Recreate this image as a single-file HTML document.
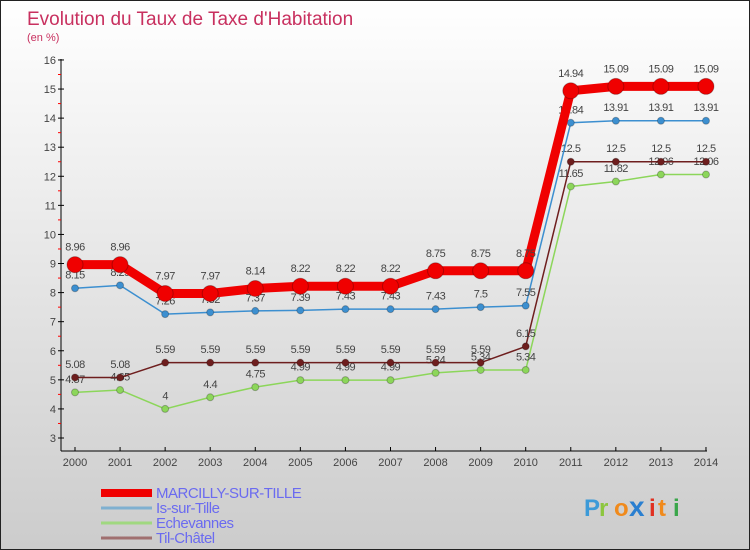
<!DOCTYPE html>
<html><head><meta charset="utf-8"><style>
body{margin:0}
#c{width:748px;height:548px;border:1px solid #222;background:linear-gradient(#fff,#ccc);position:relative;overflow:hidden;font-family:"Liberation Sans",sans-serif}
</style></head><body>
<div id="c">
<svg id="s" width="748" height="548"></svg>
</div>
<script>
const years=["2000","2001","2002","2003","2004","2005","2006","2007","2008","2009","2010","2011","2012","2013","2014"];
const marcilly=[8.96,8.96,7.97,7.97,8.14,8.22,8.22,8.22,8.75,8.75,8.75,14.94,15.09,15.09,15.09];
const issur=[8.15,8.25,7.26,7.32,7.37,7.39,7.43,7.43,7.43,7.5,7.55,13.84,13.91,13.91,13.91];
const echev=[4.57,4.65,4,4.4,4.75,4.99,4.99,4.99,5.24,5.34,5.34,11.65,11.82,12.06,12.06];
const til=[5.08,5.08,5.59,5.59,5.59,5.59,5.59,5.59,5.59,5.59,6.15,12.5,12.5,12.5,12.5];
const yTicks=[3,4,5,6,7,8,9,10,11,12,13,14,15,16];
const NS="http://www.w3.org/2000/svg",s=document.getElementById('s');
const X=i=>74+i*45.07, Y=v=>437-(v-3)*29.08;
function el(t,a,p){const e=document.createElementNS(NS,t);for(const k in a)e.setAttribute(k,a[k]);(p||s).appendChild(e);return e;}
function tx(x,y,str,a){const e=el('text',Object.assign({x:x,y:y},a));e.textContent=str;return e;}
let t=tx(26,24,"Evolution du Taux de Taxe d'Habitation",{fill:"#c8305f","font-size":19});

t=tx(26,40,"(en %)",{fill:"#c8305f","font-size":11});

let ax=el('line',{x1:60,y1:58,x2:60,y2:450,stroke:"#000"});

ax=el('line',{x1:60,y1:450,x2:706,y2:450,stroke:"#000"});

yTicks.forEach(v=>{el('line',{x1:57,y1:Y(v),x2:63,y2:Y(v),stroke:"#000"});
 if(v<16)el('line',{x1:57,y1:Y(v+0.5),x2:60,y2:Y(v+0.5),stroke:"#f00"});
 const l=tx(55,Y(v)+4,String(v),{fill:"#444","font-size":11,"text-anchor":"end"});
 });
years.forEach((y,i)=>{el('line',{x1:X(i),y1:446,x2:X(i),y2:450,stroke:"#000"});
 const l=tx(X(i),465,y,{fill:"#444","font-size":11,"text-anchor":"middle"});
 });
const series=[
 {d:echev,c:"#8cd65a",w:1.5,r:3.5,n:"echevannes"},
 {d:til,c:"#6e1e1e",w:1.5,r:3.5,n:"til-chatel"},
 {d:issur,c:"#3c8fd0",w:1.5,r:3.5,n:"is-sur-tille"},
 {d:marcilly,c:"#f00000",w:9,r:8,n:"marcilly-sur-tille"}];
series.forEach(se=>{
 const p=el('polyline',{points:se.d.map((v,i)=>X(i)+','+Y(v)).join(' '),fill:"none",stroke:se.c,"stroke-width":se.w});
 
 se.d.forEach((v,i)=>{const c=el('circle',{cx:X(i),cy:Y(v),r:se.r,fill:se.c,stroke:"rgba(0,0,0,0.25)"});
  
  const l=tx(X(i),Y(v)-(se.r+6),String(v),{fill:"#444","font-size":11,"text-anchor":"middle","letter-spacing":"-0.5"});
  });
});
const leg=[["MARCILLY-SUR-TILLE","#f00000",8,497],["Is-sur-Tille","#7fb0d0",3,512],["Echevannes","#a0d880",3,527],["Til-Châtel","#a07070",3,542]];
leg.forEach(L=>{el('line',{x1:100,y1:L[3]-5,x2:151,y2:L[3]-5,stroke:L[1],"stroke-width":L[2]});
 const l=tx(155,L[3],L[0],{fill:"#6b6bf0","font-size":15,"letter-spacing":"-0.5"});
 });
const logo=[["P","#3c9ad8"],["r","#8cc63e"],["o","#f08a1c"],["x","#2a7fd0"],["i","#e03020"],["t","#f08a1c"],["i","#3aa64a"]];
let lx=583;logo.forEach(g=>{const l=tx(lx,515,g[0],{fill:g[1],"font-size":g[0]=="x"?28:24,"font-weight":"bold"});
 lx+=g[0]=="i"?9:(g[0]=="x"?20:15);});
</script>
</body></html>
